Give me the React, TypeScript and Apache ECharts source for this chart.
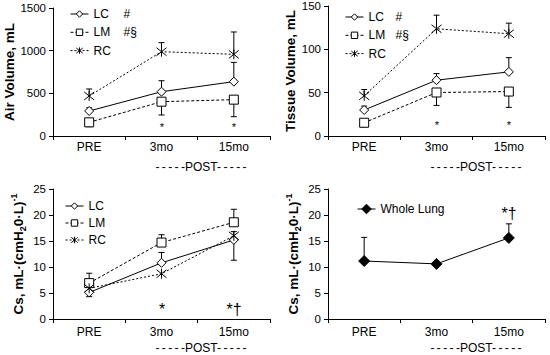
import React, { useEffect, useRef } from "react";
import * as echarts from "echarts";

const FONT = 'Arial, "Liberation Sans", Helvetica, sans-serif';

const categories = ["PRE", "3mo", "15mo"];

// Air volume (mL)
const airLC = [293, 519, 637];
const airLCErr = [330, 648, 863];
const airLM = [160, 402, 426];
const airLMErr = [109, 246, 226];
const airRC = [469, 988, 957];
const airRCErr = [551, 1094, 1219];
const airMarks = ["", "*", "*"];
const airMarkY = 105;

// Tissue volume (mL)
const tisLC = [30, 64.4, 74];
const tisLCErr = [34.5, 72, 90.4];
const tisLM = [15.3, 50.2, 51.3];
const tisLMErr = [10.7, 35.3, 33];
const tisRC = [46.3, 123.7, 118];
const tisRCErr = [53.6, 139.4, 130.2];
const tisMarks = ["", "*", "*"];
const tisMarkY = 13;

// Cs by region
const csLC = [5.1, 10.8, 15.2];
const csLCErr = [4.3, 12.8, 11.3];
const csLM = [6.9, 14.7, 18.6];
const csLMErr = [8.8, 16.2, 21.1];
const csRC = [5.9, 8.7, 16.0];
const csRCErr = [null, null, 16.8];
const csMarks = ["", "*", "*†"];
const csMarkY = 2;

// Cs whole lung
const wlCs = [11.15, 10.6, 15.6];
const wlCsErr = [15.7, null, 18.3];
const wlMarks = ["", "", "*†"];
const wlMarkY = 20.3;

const RC_SYMBOL = "path://M0,1L10,9M10,1L0,9M5,0L5,10";

const lineDef: Record<string, any> = {
  LC: { symbol: "diamond", symbolSize: 9, lineType: "solid", fill: "#fff" },
  LM: { symbol: "rect", symbolSize: 9, lineType: [3, 2], fill: "#fff" },
  RC: { symbol: RC_SYMBOL, symbolSize: 10, lineType: [2, 2], fill: "#fff" },
  "Whole Lung": { symbol: "diamond", symbolSize: 11, lineType: "solid", fill: "#000" },
};

function lineSeries(name: string, idx: number, data: number[]) {
  const d = lineDef[name];
  return {
    type: "line",
    name,
    xAxisIndex: idx,
    yAxisIndex: idx,
    data,
    z: 3,
    symbol: d.symbol,
    symbolSize: d.symbolSize,
    lineStyle: { color: "#000", width: 1, type: d.lineType },
    itemStyle: { color: d.fill, borderColor: "#000", borderWidth: 1 },
    emphasis: { disabled: true },
  };
}

function errSeries(idx: number, vals: number[], errs: (number | null)[]) {
  const data = errs
    .map((e, k) => (e == null ? null : [k, vals[k], e]))
    .filter((x) => x != null);
  return {
    type: "custom",
    xAxisIndex: idx,
    yAxisIndex: idx,
    z: 1,
    silent: true,
    itemStyle: { color: "#000" },
    data,
    renderItem: (params: any, api: any) => {
      const x = api.value(0);
      const p0 = api.coord([x, api.value(1)]);
      const p1 = api.coord([x, api.value(2)]);
      return {
        type: "group",
        children: [
          {
            type: "line",
            shape: { x1: p0[0], y1: p0[1], x2: p1[0], y2: p1[1] },
            style: { stroke: "#000", lineWidth: 1 },
          },
          {
            type: "line",
            shape: { x1: p1[0] - 3, y1: p1[1], x2: p1[0] + 3, y2: p1[1] },
            style: { stroke: "#000", lineWidth: 1 },
          },
        ],
      };
    },
  };
}

function markSeries(idx: number, marks: string[], y: number, size: number) {
  const items = marks
    .map((t, k) => ({ t, k }))
    .filter((m) => m.t !== "");
  return {
    type: "custom",
    xAxisIndex: idx,
    yAxisIndex: idx,
    z: 4,
    silent: true,
    itemStyle: { color: "#000" },
    data: items.map((m) => [m.k, y]),
    renderItem: (params: any, api: any) => {
      const p = api.coord([api.value(0), api.value(1)]);
      return {
        type: "text",
        x: Math.round(p[0]),
        y: Math.round(p[1]),
        style: {
          text: items[params.dataIndex].t,
          fontSize: size,
          fontFamily: FONT,
          fill: "#000",
          stroke: "none",
          align: "center",
          verticalAlign: "middle",
        },
      };
    },
  };
}

const grids = [
  { left: 53, top: 8, width: 217, height: 128 },
  { left: 328, top: 6, width: 217, height: 130 },
  { left: 53, top: 189, width: 217, height: 130 },
  { left: 328, top: 189, width: 217, height: 130 },
];

const yDefs = [
  { max: 1500, interval: 500, name: "Air Volume, mL", gap: 30 },
  { max: 150, interval: 50, name: "Tissue Volume, mL", gap: 27 },
  { max: 25, interval: 5, name: "{t|Cs, mL·(cmH}{s|2}{t|0·L)}{p|-1}", gap: 26 },
  { max: 25, interval: 5, name: "{t|Cs, mL·(cmH}{s|2}{t|0·L)}{p|-1}", gap: 26 },
];

const titleRich = {
  t: { fontSize: 13.5, fontWeight: "bold", fontFamily: FONT, color: "#000", lineHeight: 18 },
  s: { fontSize: 9, fontWeight: "bold", fontFamily: FONT, color: "#000", lineHeight: 10, verticalAlign: "bottom" },
  p: { fontSize: 9, fontWeight: "bold", fontFamily: FONT, color: "#000", lineHeight: 10, verticalAlign: "top" },
};

function legendDef(names: string[], left: number, top: number, gap: number, suffix: Record<string, string> | null, nameWidth: number, itemHeight: number) {
  return {
    data: names,
    orient: "vertical",
    left,
    top,
    itemWidth: 18,
    itemHeight,
    itemGap: gap,
    selectedMode: false,
    itemStyle: { borderWidth: 1 },
    lineStyle: { width: 1 },
    formatter: (n: string) => (suffix ? `{n|${n}}{h|${suffix[n] || ""}}` : n),
    textStyle: {
      fontSize: 12,
      fontFamily: FONT,
      color: "#000",
      rich: {
        n: { width: nameWidth, fontSize: 12, fontFamily: FONT, color: "#000" },
        h: { fontSize: 12, fontFamily: FONT, color: "#000" },
      },
    },
  };
}

const postTexts = [
  { x: 201, y: 167 },
  { x: 476, y: 167 },
  { x: 201, y: 348 },
  { x: 476, y: 348 },
];

const DASHES = "-\u2009-\u2009-\u2009-\u2009-";

export default function App() {
  const ref = useRef<HTMLDivElement>(null);
  useEffect(() => {
    document.body.style.margin = "0";
    if (!ref.current) return;
    const chart = echarts.init(ref.current, null, { renderer: "svg" });
    const suffix = { LC: "#", LM: "#§", RC: "" };
    const option: any = {
      animation: false,
      backgroundColor: "#fff",
      grid: grids,
      xAxis: grids.map((g, i) => ({
        type: "category",
        gridIndex: i,
        data: categories,
        boundaryGap: true,
        axisLine: { lineStyle: { color: "#000", width: 1 } },
        axisTick: { show: true, length: 4, lineStyle: { color: "#000" } },
        axisLabel: { fontSize: 12, fontFamily: FONT, color: "#000", margin: i < 2 ? 5 : 7 },
        splitLine: { show: false },
      })),
      yAxis: yDefs.map((y, i) => ({
        type: "value",
        gridIndex: i,
        min: 0,
        max: y.max,
        interval: y.interval,
        axisLine: { show: true, lineStyle: { color: "#000", width: 1 } },
        axisTick: { show: true, length: 4, lineStyle: { color: "#000" } },
        axisLabel: { fontSize: 11.5, fontFamily: FONT, color: "#000", margin: 7, formatter: (v: number) => String(v) },
        splitLine: { show: false },
        name: y.name,
        nameLocation: "middle",
        nameGap: y.gap,
        nameTextStyle: { fontSize: 13.5, fontWeight: "bold", fontFamily: FONT, color: "#000", rich: titleRich },
      })),
      legend: [
        legendDef(["LC", "LM", "RC"], 65, 3, 6.3, suffix, 30, 8),
        legendDef(["LC", "LM", "RC"], 340, 6, 6.3, suffix, 27, 8),
        legendDef(["LC", "LM", "RC"], 60, 195, 5, null, 30, 8),
        legendDef(["Whole Lung"], 352, 198, 4, null, 30, 12),
      ],
      graphic: postTexts.map((p) => ({
        type: "text",
        x: p.x,
        y: p.y,
        style: {
          text: DASHES + "POST" + DASHES,
          fontSize: 12,
          fontFamily: FONT,
          fill: "#000",
          align: "center",
          verticalAlign: "middle",
        },
      })),
      series: [
        errSeries(0, airLC, airLCErr),
        errSeries(0, airLM, airLMErr),
        errSeries(0, airRC, airRCErr),
        lineSeries("LC", 0, airLC),
        lineSeries("LM", 0, airLM),
        lineSeries("RC", 0, airRC),
        markSeries(0, airMarks, airMarkY, 11),

        errSeries(1, tisLC, tisLCErr),
        errSeries(1, tisLM, tisLMErr),
        errSeries(1, tisRC, tisRCErr),
        lineSeries("LC", 1, tisLC),
        lineSeries("LM", 1, tisLM),
        lineSeries("RC", 1, tisRC),
        markSeries(1, tisMarks, tisMarkY, 11),

        errSeries(2, csLC, csLCErr),
        errSeries(2, csLM, csLMErr),
        errSeries(2, csRC, csRCErr),
        lineSeries("LC", 2, csLC),
        lineSeries("LM", 2, csLM),
        lineSeries("RC", 2, csRC),
        markSeries(2, csMarks, csMarkY, 16),

        errSeries(3, wlCs, wlCsErr),
        lineSeries("Whole Lung", 3, wlCs),
        markSeries(3, wlMarks, wlMarkY, 16),
      ],
    };
    chart.setOption(option);
    return () => chart.dispose();
  }, []);
  return <div ref={ref} style={{ width: 550, height: 355 }} />;
}
